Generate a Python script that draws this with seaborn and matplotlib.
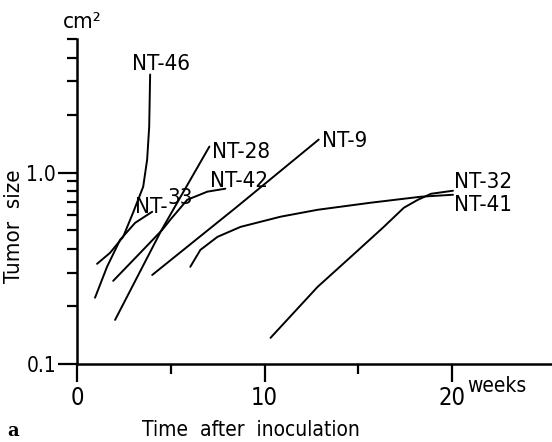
# Tumor growth curves (log scale), recreated with seaborn
import numpy as np
import pandas as pd
import matplotlib
matplotlib.use('Agg')
import matplotlib.pyplot as plt
from matplotlib import font_manager as fm
import seaborn as sns

# data (weeks after inoculation, tumor size in cm2)
nt46_week = [1.07, 1.76, 2.46, 2.99, 3.53, 3.74, 3.85, 3.90]
nt46_size = [0.334, 0.381, 0.462, 0.618, 0.845, 1.17, 1.74, 3.26]

nt33_week = [0.96, 1.60, 2.30, 3.10, 4.01]
nt33_size = [0.222, 0.322, 0.446, 0.547, 0.625]

nt28_week = [2.03, 4.5, 7.06]
nt28_size = [0.170, 0.50, 1.37]

nt42_week = [1.93, 3.37, 4.55, 4.97, 5.88, 6.95, 7.91]
nt42_size = [0.272, 0.381, 0.503, 0.567, 0.722, 0.796, 0.825]

nt9_week = [4.01, 8.5, 12.89]
nt9_size = [0.292, 0.66, 1.49]

nt41_week = [6.04, 6.58, 7.49, 8.72, 10.86, 12.83, 15.67, 18.34, 20.05]
nt41_size = [0.322, 0.395, 0.462, 0.521, 0.589, 0.640, 0.697, 0.749, 0.767]

nt32_week = [10.32, 12.83, 14.60, 16.36, 17.43, 18.18, 18.88, 20.05]
nt32_size = [0.137, 0.253, 0.363, 0.521, 0.656, 0.722, 0.776, 0.805]

curves = {'NT-46': (nt46_week, nt46_size), 'NT-33': (nt33_week, nt33_size),
          'NT-28': (nt28_week, nt28_size), 'NT-42': (nt42_week, nt42_size),
          'NT-9': (nt9_week, nt9_size), 'NT-41': (nt41_week, nt41_size),
          'NT-32': (nt32_week, nt32_size)}

rows = []
for name, (wk, sz) in curves.items():
    for w, s in zip(wk, sz):
        rows.append({'tumor': name, 'week': w, 'size': s})
df = pd.DataFrame(rows)

sns.set_style('ticks')
plt.rcParams['font.family'] = ['DejaVu Sans']
for k in ['text.color', 'axes.labelcolor', 'xtick.color', 'ytick.color', 'axes.edgecolor']:
    plt.rcParams[k] = 'black'

# look for a narrow face, the original lettering is very condensed
narrow = None
for f in fm.fontManager.ttflist:
    nm = f.name.lower()
    is_narrow = ('narrow' in nm or 'condensed' in nm or
                 str(f.stretch) in ('condensed', 'semi-condensed', 'extra-condensed', '500', '300'))
    if is_narrow and f.style == 'normal' and str(f.weight) in ('400', 'normal', 'regular', 'book'):
        narrow = f.fname
        break

def fp(size):
    if narrow:
        return fm.FontProperties(fname=narrow, size=size)
    return fm.FontProperties(family='DejaVu Sans', stretch='condensed', size=size)

fig = plt.figure(figsize=(5.52, 4.42), dpi=100)
ax = fig.add_axes([77/552, 1-364/442, 1-77/552, (364-39)/442])

sns.lineplot(data=df, x='week', y='size', units='tumor', estimator=None,
             sort=False, color='black', linewidth=1.4, ax=ax)

ax.set_yscale('log')
ax.set_ylim(0.1, 5)
ax.set_xlim(0, 25.33)

ax.set_yticks([0.1, 1.0])
ax.set_yticklabels(['0.1', '1.0'])
ax.set_yticks([0.2, 0.3, 0.4, 0.5, 0.6, 0.7, 0.8, 0.9, 2, 3, 4, 5], minor=True)
ax.yaxis.set_minor_formatter(matplotlib.ticker.NullFormatter())
ax.set_xticks([0, 10, 20])
ax.set_xticklabels(['0', '10', '20'])
ax.set_xticks([5, 15], minor=True)

ax.tick_params(axis='both', which='major', length=13, width=1.6, pad=3)
ax.tick_params(axis='both', which='minor', length=7.5, width=1.6)
ax.tick_params(axis='y', which='major', length=14, pad=1)
for lab in ax.get_xticklabels():
    lab.set_fontproperties(fp(17))
for lab in ax.get_yticklabels():
    lab.set_fontproperties(fp(15))
ax.set_xlabel('')
ax.set_ylabel('')

sns.despine(ax=ax)
for s in ['left', 'bottom']:
    ax.spines[s].set_linewidth(1.8)

# curve labels
lab_fp = fp(16)
ax.text(2.93, 3.44, 'NT-46', fontproperties=lab_fp, va='baseline', ha='left')
ax.text(7.2, 1.20, 'NT-28', fontproperties=lab_fp, va='baseline', ha='left')
ax.text(7.09, 0.845, 'NT-42', fontproperties=lab_fp, va='baseline', ha='left')
ax.text(13.07, 1.37, 'NT-9', fontproperties=lab_fp, va='baseline', ha='left')
ax.text(20.1, 0.835, 'NT-32', fontproperties=lab_fp, va='baseline', ha='left')
ax.text(20.1, 0.627, 'NT-41', fontproperties=lab_fp, va='baseline', ha='left')
t33 = ax.text(3.1, 0.619, 'NT-', fontproperties=lab_fp, va='baseline', ha='left')
ax.annotate('33', xy=(1, 0), xycoords=t33, xytext=(0, 6), textcoords='offset points',
            fontproperties=lab_fp, va='bottom', ha='left')

# axis texts
fig.text(63/552, 1-28/442, 'cm²', fontproperties=fp(16), va='baseline', ha='left')
fig.text(14/552, 1-226/442, 'Tumor  size', fontproperties=fp(16), rotation=90,
         va='center', ha='center')
fig.text(251/552, 1-436/442, 'Time  after  inoculation', fontproperties=fp(15),
         va='baseline', ha='center')
fig.text(467/552, 1-392/442, 'weeks', fontproperties=fp(15), va='baseline', ha='left')
fig.text(7/552, 1-436/442, 'a', fontsize=13, fontweight='bold', family='DejaVu Serif',
         va='baseline', ha='left')

fig.savefig('out.png', dpi=100)
